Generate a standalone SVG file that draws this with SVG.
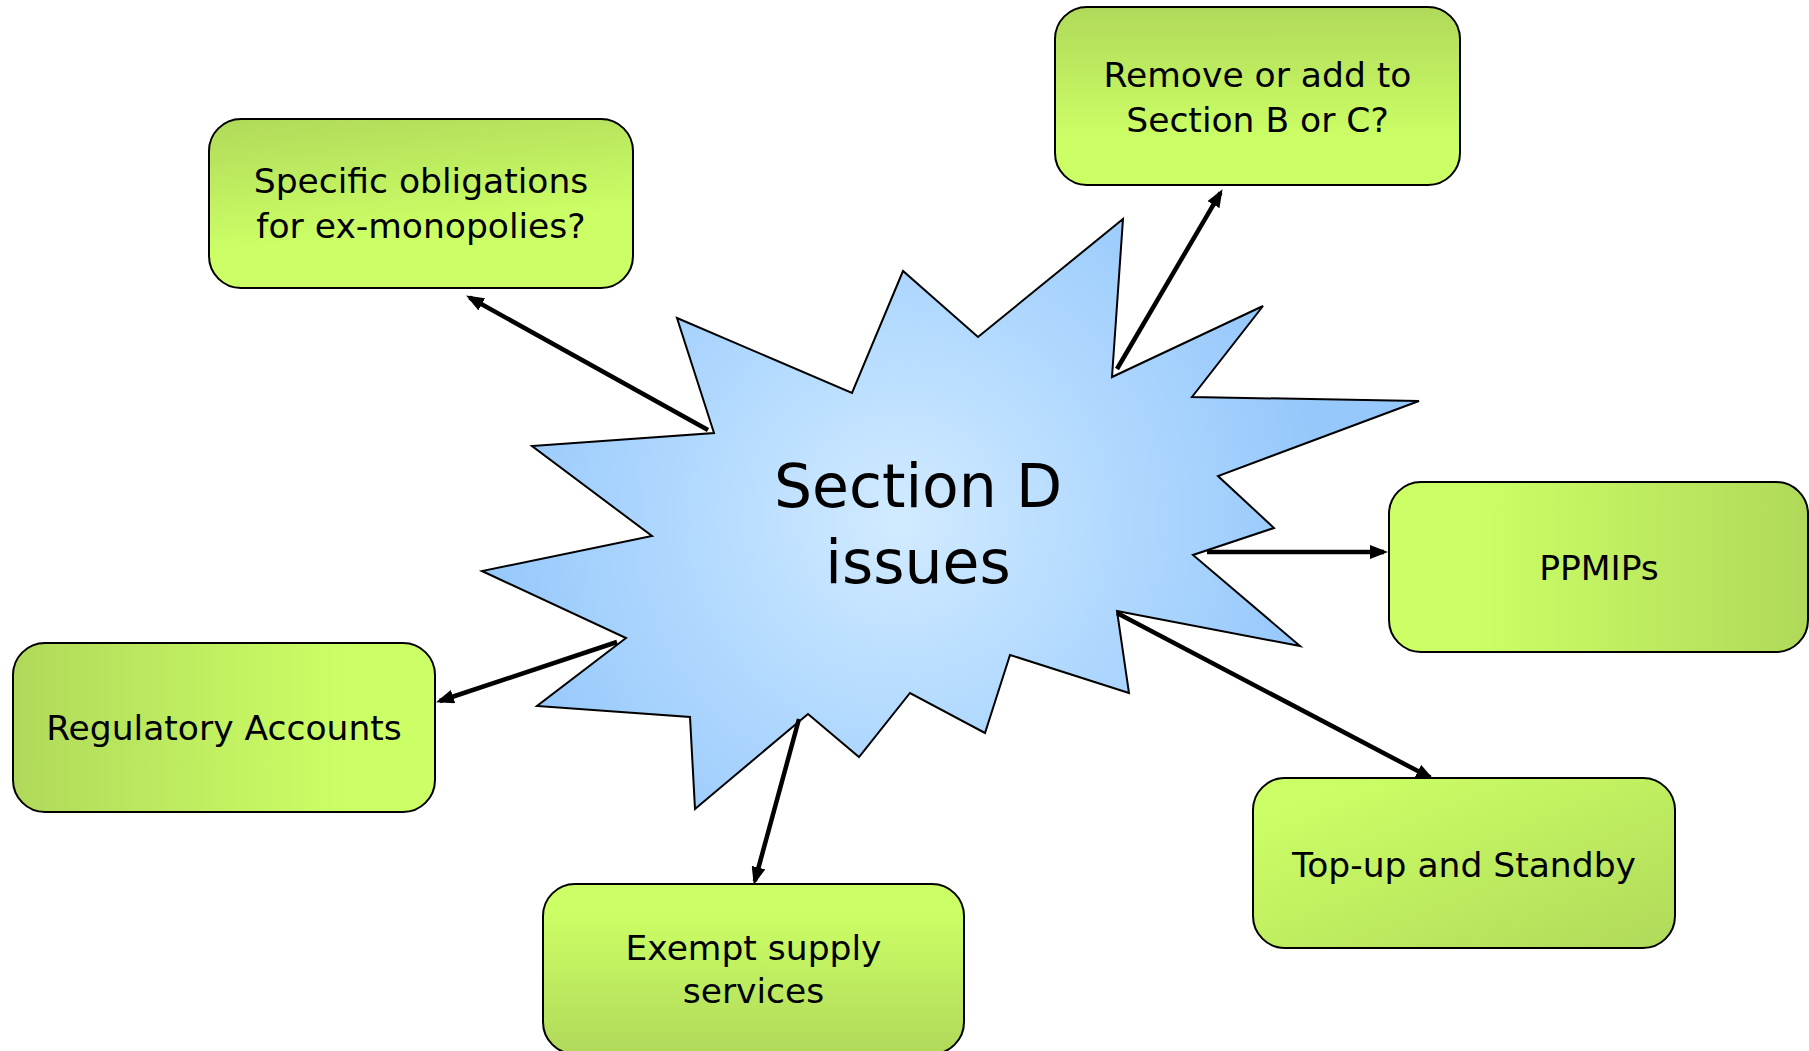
<svg xmlns="http://www.w3.org/2000/svg" width="1809" height="1051" viewBox="0 0 1809 1051">
  <style>
    .box { stroke: #000; stroke-width: 2; }
    .lbl { font-family: "DejaVu Sans", "Liberation Sans", sans-serif; font-size: 34.5px; fill: #000; text-anchor: middle; }
    .big { font-family: "DejaVu Sans", "Liberation Sans", sans-serif; font-size: 60px; fill: #000; text-anchor: middle; }
    .conn { stroke: #000; stroke-width: 4.5; fill: none; marker-end: url(#arrow); }
  </style>
  <defs>
    <marker id="arrow" markerUnits="userSpaceOnUse" markerWidth="18" markerHeight="14" refX="14" refY="7" orient="auto">
      <path d="M0,0 L18,7 L0,14 z" fill="#000"/>
    </marker>
    <linearGradient id="gTopDark" x1="0" y1="0" x2="0.25" y2="1">
      <stop offset="0" stop-color="#b0d95a"/>
      <stop offset="0.75" stop-color="#ccff66"/>
    </linearGradient>
    <linearGradient id="gVTopDark" x1="0" y1="0" x2="0" y2="1">
      <stop offset="0" stop-color="#b0d95a"/>
      <stop offset="0.75" stop-color="#ccff66"/>
    </linearGradient>
    <linearGradient id="gRightDark" x1="0" y1="0" x2="1" y2="0">
      <stop offset="0.2" stop-color="#ccff66"/>
      <stop offset="1" stop-color="#b0d95a"/>
    </linearGradient>
    <linearGradient id="gLeftDark" x1="0" y1="0" x2="1" y2="0">
      <stop offset="0" stop-color="#b0d95a"/>
      <stop offset="0.8" stop-color="#ccff66"/>
    </linearGradient>
    <linearGradient id="gBRDark" x1="0" y1="0" x2="1" y2="1">
      <stop offset="0.1" stop-color="#ccff66"/>
      <stop offset="1" stop-color="#b0d95a"/>
    </linearGradient>
    <linearGradient id="gVBottomDark" x1="0" y1="0" x2="0" y2="1">
      <stop offset="0.15" stop-color="#ccff66"/>
      <stop offset="1" stop-color="#b0d95a"/>
    </linearGradient>
    <radialGradient id="gStar" gradientUnits="userSpaceOnUse" cx="900" cy="520" r="420">
      <stop offset="0" stop-color="#d2ebff"/>
      <stop offset="0.45" stop-color="#b5dbff"/>
      <stop offset="1" stop-color="#96c8fb"/>
    </radialGradient>
  </defs>

  <g id="star">
    <polygon points="677,318 852,393 903,271 978,337 1123,219 1112,377 1263,306 1192,397 1419,401 1218,476 1274,528 1193,555 1300,646 1117,611 1129,693 1010,655 985,733 910,693 859,757 808,714 695,809 690,717 537,706 626,638 482,571 652,536 532,446 714,433" fill="url(#gStar)" stroke="#000" stroke-width="2" stroke-linejoin="miter"/>
    <text class="big" x="918" y="507">Section D</text>
    <text class="big" x="918" y="583">issues</text>
  </g>

  <g id="connectors">
    <line class="conn" x1="708" y1="430" x2="469.6" y2="297.5"/>
    <line class="conn" x1="1117" y1="369" x2="1220.5" y2="192.6"/>
    <line class="conn" x1="1207" y1="552" x2="1384" y2="552"/>
    <line class="conn" x1="1117" y1="613" x2="1430.3" y2="777.6"/>
    <line class="conn" x1="799" y1="719" x2="754.8" y2="881.1"/>
    <line class="conn" x1="617" y1="642" x2="439.8" y2="701"/>
  </g>

  <g id="node-specific">
    <rect class="box" x="209" y="119" width="424" height="169" rx="32" fill="url(#gTopDark)"/>
    <text class="lbl" x="421" y="193">Specific obligations</text>
    <text class="lbl" x="421" y="238">for ex-monopolies?</text>
  </g>

  <g id="node-remove">
    <rect class="box" x="1055" y="7" width="405" height="178" rx="32" fill="url(#gVTopDark)"/>
    <text class="lbl" x="1257.5" y="87">Remove or add to</text>
    <text class="lbl" x="1257.5" y="132">Section B or C?</text>
  </g>

  <g id="node-ppmips">
    <rect class="box" x="1389" y="482" width="419" height="170" rx="32" fill="url(#gRightDark)"/>
    <text class="lbl" x="1599" y="580">PPMIPs</text>
  </g>

  <g id="node-regulatory">
    <rect class="box" x="13" y="643" width="422" height="169" rx="32" fill="url(#gLeftDark)"/>
    <text class="lbl" x="224" y="740">Regulatory Accounts</text>
  </g>

  <g id="node-topup">
    <rect class="box" x="1253" y="778" width="422" height="170" rx="32" fill="url(#gBRDark)"/>
    <text class="lbl" x="1464" y="877">Top-up and Standby</text>
  </g>

  <g id="node-exempt">
    <rect class="box" x="543" y="884" width="421" height="170" rx="32" fill="url(#gVBottomDark)"/>
    <text class="lbl" x="753.5" y="960">Exempt supply</text>
    <text class="lbl" x="753.5" y="1003">services</text>
  </g>
</svg>
